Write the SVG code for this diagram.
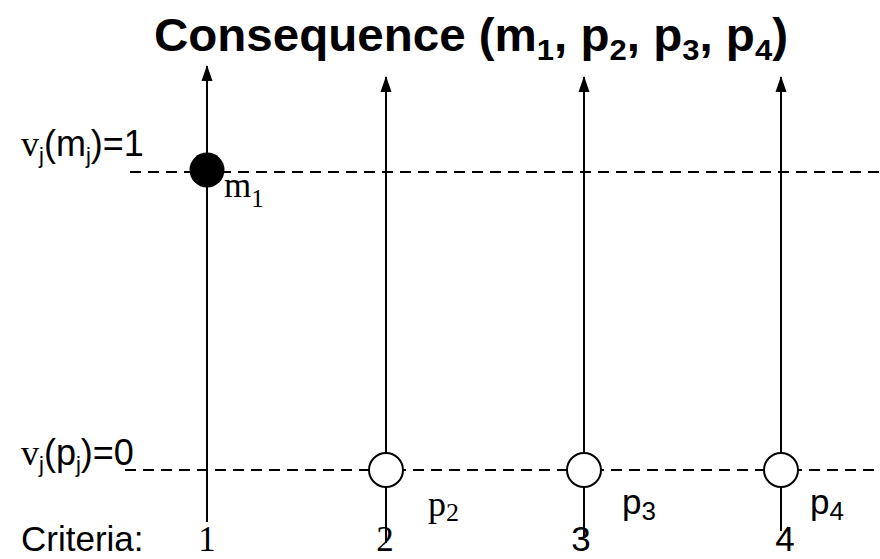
<svg xmlns="http://www.w3.org/2000/svg" width="880" height="559" viewBox="0 0 880 559">
<style>
.sans{font-family:"Liberation Sans",Arial,sans-serif;fill:#000}
.serif{font-family:"Liberation Serif","Times New Roman",serif;fill:#000}
.axis{stroke:#000;stroke-width:2;fill:none}
.dash{stroke:#000;stroke-width:2;fill:none;stroke-dasharray:11 7}
.open{fill:#fff;stroke:#000;stroke-width:2}
</style>
<defs>
<marker id="ah" markerUnits="userSpaceOnUse" markerWidth="16" markerHeight="12" refX="15" refY="6" orient="auto" viewBox="0 0 16 12">
<path d="M16 6 L0 0.5 L0 11.5 Z" fill="#000"/>
</marker>
</defs>
<rect width="880" height="559" fill="#fff"/>
<text id="title" class="sans" x="154" y="51" font-size="46" font-weight="bold" textLength="634" lengthAdjust="spacingAndGlyphs">Consequence (m<tspan font-size="30" dy="9">1</tspan><tspan dy="-9">, p</tspan><tspan font-size="30" dy="9">2</tspan><tspan dy="-9">, p</tspan><tspan font-size="30" dy="9">3</tspan><tspan dy="-9">, p</tspan><tspan font-size="30" dy="9">4</tspan><tspan dy="-9">)</tspan></text>
<g id="connectors">
<line class="dash" x1="130" y1="172" x2="880" y2="172"/>
<line class="dash" x1="125" y1="470" x2="880" y2="470"/>
<line class="axis" x1="207" y1="522" x2="207" y2="66" marker-end="url(#ah)"/>
<line class="axis" x1="386" y1="543" x2="386" y2="77" marker-end="url(#ah)"/>
<line class="axis" x1="584" y1="537" x2="584" y2="77" marker-end="url(#ah)"/>
<line class="axis" x1="781" y1="531" x2="781" y2="77" marker-end="url(#ah)"/>
</g>
<g id="label-top">
<text x="21" y="156" font-size="36"><tspan class="serif">v</tspan><tspan class="sans" font-size="22" dy="7">j</tspan><tspan class="sans" dy="-7">(m</tspan><tspan class="sans" font-size="22" dy="7">j</tspan><tspan class="sans" dy="-7">)=1</tspan></text>
</g>
<g id="label-bottom">
<text x="21" y="465" font-size="36"><tspan class="serif">v</tspan><tspan class="sans" font-size="22" dy="7">j</tspan><tspan class="sans" dy="-7">(p</tspan><tspan class="sans" font-size="22" dy="7">j</tspan><tspan class="sans" dy="-7">)=0</tspan></text>
</g>
<g id="m1">
<circle cx="207" cy="170" r="17.5" fill="#000"/>
<text class="serif" x="224" y="197" font-size="35">m<tspan font-size="25" dy="10">1</tspan></text>
</g>
<g id="p2">
<circle class="open" cx="386" cy="470" r="17"/>
<text class="serif" x="428" y="516" font-size="36">p<tspan font-size="26" dy="5">2</tspan></text>
</g>
<g id="p3">
<circle class="open" cx="584" cy="470" r="17"/>
<text class="sans" x="622" y="514" font-size="35">p<tspan font-size="26" dy="6">3</tspan></text>
</g>
<g id="p4">
<circle class="open" cx="781" cy="470" r="17"/>
<text class="sans" x="810" y="514" font-size="35">p<tspan font-size="26" dy="6">4</tspan></text>
</g>
<g id="criteria">
<text class="sans" x="21" y="551" font-size="35">Criteria:</text>
<text class="serif" x="207" y="551" font-size="35" text-anchor="middle">1</text>
<text class="serif" x="385" y="551" font-size="35" text-anchor="middle">2</text>
<text class="sans" x="581" y="551" font-size="35" text-anchor="middle">3</text>
<text class="sans" x="785" y="551" font-size="35" text-anchor="middle">4</text>
</g>
</svg>
